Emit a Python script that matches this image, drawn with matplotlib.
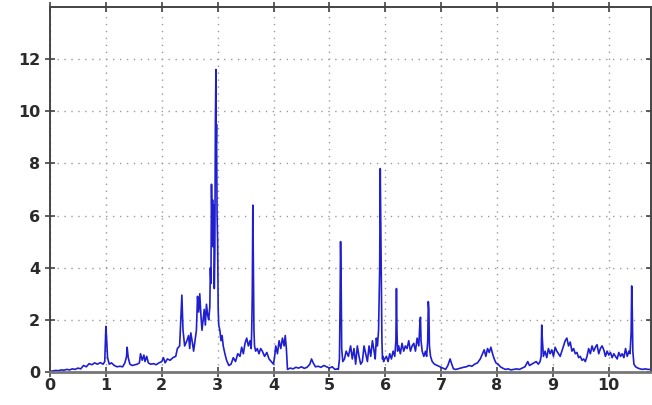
import matplotlib
matplotlib.use("Agg")
import matplotlib.pyplot as plt

# values
x_vals = [
    0.00, 0.05, 0.10, 0.15, 0.20, 0.25, 0.30, 0.35, 0.40, 0.45,
    0.50, 0.55, 0.60, 0.65, 0.70, 0.75, 0.80, 0.85, 0.90, 0.95,
    0.98, 1.00, 1.01, 1.03, 1.06, 1.10, 1.15, 1.20, 1.25, 1.30,
    1.34, 1.37, 1.38, 1.40, 1.43, 1.47, 1.52, 1.56, 1.60, 1.62,
    1.65, 1.68, 1.70, 1.73, 1.76, 1.80, 1.85, 1.90, 1.95, 2.00,
    2.03, 2.06, 2.10, 2.15, 2.20, 2.25, 2.28, 2.32, 2.34, 2.36,
    2.38, 2.41, 2.45, 2.48, 2.50, 2.52, 2.55, 2.57, 2.60, 2.62,
    2.64, 2.66, 2.68, 2.70, 2.72, 2.74, 2.76, 2.78, 2.80, 2.82,
    2.84, 2.86, 2.87, 2.88, 2.89, 2.90, 2.91, 2.92, 2.93, 2.94,
    2.95, 2.96, 2.97, 2.975, 2.98, 2.99, 3.00, 3.01, 3.02, 3.04,
    3.06, 3.08, 3.10, 3.13, 3.16, 3.20, 3.24, 3.28, 3.32, 3.36,
    3.40, 3.43, 3.46, 3.49, 3.52, 3.55, 3.58, 3.60, 3.61, 3.62,
    3.63, 3.64, 3.65, 3.66, 3.68, 3.71, 3.74, 3.77, 3.80, 3.84,
    3.88, 3.92, 3.96, 4.00, 4.02, 4.04, 4.07, 4.10, 4.13, 4.16,
    4.19, 4.21, 4.23, 4.25, 4.30, 4.35, 4.40, 4.45, 4.50, 4.55,
    4.60, 4.65, 4.68, 4.71, 4.75, 4.80, 4.85, 4.90, 4.95, 5.00,
    5.05, 5.10, 5.14, 5.16, 5.18, 5.19, 5.20, 5.21, 5.22, 5.24,
    5.27, 5.30, 5.34, 5.38, 5.41, 5.44, 5.47, 5.50, 5.53, 5.56,
    5.59, 5.62, 5.65, 5.68, 5.71, 5.74, 5.77, 5.80, 5.82, 5.84,
    5.86, 5.88, 5.90, 5.91, 5.92, 5.93, 5.94, 5.95, 5.96, 5.97,
    5.99, 6.02, 6.05, 6.08, 6.11, 6.14, 6.17, 6.19, 6.20, 6.21,
    6.22, 6.24, 6.27, 6.30, 6.33, 6.36, 6.39, 6.42, 6.45, 6.48,
    6.51, 6.54, 6.57, 6.60, 6.62, 6.63, 6.64, 6.66, 6.69, 6.72,
    6.74, 6.76, 6.77, 6.78, 6.79, 6.81, 6.84, 6.88, 6.93, 6.98,
    7.03, 7.08, 7.12, 7.16, 7.19, 7.22, 7.26, 7.30, 7.35, 7.40,
    7.45, 7.50, 7.55, 7.60, 7.65, 7.70, 7.74, 7.77, 7.80, 7.83,
    7.86, 7.89, 7.92, 7.95, 7.98, 8.02, 8.06, 8.10, 8.15, 8.20,
    8.25, 8.30, 8.35, 8.40, 8.45, 8.50, 8.55, 8.58, 8.62, 8.66,
    8.70, 8.74, 8.77, 8.79, 8.80, 8.81, 8.83, 8.86, 8.89, 8.92,
    8.95, 8.98, 9.01, 9.04, 9.07, 9.10, 9.13, 9.16, 9.19, 9.22,
    9.25, 9.28, 9.31, 9.34, 9.37, 9.40, 9.43, 9.46, 9.49, 9.52,
    9.55, 9.58, 9.61, 9.64, 9.67, 9.70, 9.73, 9.76, 9.79, 9.82,
    9.85, 9.88, 9.91, 9.94, 9.97, 10.00, 10.03, 10.06, 10.09, 10.12,
    10.15, 10.18, 10.21, 10.24, 10.27, 10.30, 10.33, 10.36, 10.38, 10.40,
    10.41, 10.42, 10.43, 10.45, 10.48, 10.52, 10.56, 10.60, 10.65, 10.70,
    10.75,
]
y_vals = [
    0.02, 0.04, 0.06, 0.05, 0.08, 0.07, 0.10, 0.08, 0.12, 0.10,
    0.15, 0.12, 0.25, 0.20, 0.32, 0.28, 0.35, 0.30, 0.36, 0.30,
    0.40, 1.75, 1.40, 0.55, 0.30, 0.35, 0.25, 0.20, 0.22, 0.20,
    0.35, 0.60, 0.95, 0.55, 0.30, 0.25, 0.28, 0.30, 0.35, 0.70,
    0.45, 0.65, 0.40, 0.60, 0.35, 0.30, 0.32, 0.28, 0.35, 0.40,
    0.55, 0.35, 0.50, 0.45, 0.55, 0.60, 0.90, 1.00, 2.00, 2.95,
    1.60, 1.00, 1.20, 1.40, 0.90, 1.50, 1.10, 0.80, 1.30, 1.60,
    2.90, 2.30, 3.00, 2.20, 1.60, 2.00, 2.40, 1.80, 2.60, 2.20,
    2.00, 2.50, 4.00, 3.40, 7.20, 5.60, 6.60, 4.80, 6.40, 3.20,
    4.60, 9.60, 11.60, 8.80, 9.50, 6.00, 5.00, 2.40, 1.80, 1.60,
    1.20, 1.40, 1.00, 0.70, 0.45, 0.25, 0.30, 0.55, 0.40, 0.70,
    0.60, 0.95, 0.70, 1.10, 1.30, 1.00, 1.20, 0.90, 1.60, 3.00,
    6.40, 4.20, 1.60, 1.00, 0.80, 0.90, 0.70, 0.90, 0.80, 0.60,
    0.75, 0.50, 0.40, 0.30, 0.60, 1.00, 0.70, 1.20, 0.90, 1.30,
    1.00, 1.40, 0.90, 0.10, 0.15, 0.12, 0.18, 0.15, 0.20, 0.14,
    0.18, 0.30, 0.50, 0.35, 0.20, 0.22, 0.18, 0.25, 0.20, 0.15,
    0.20, 0.10, 0.12, 0.10, 0.50, 2.40, 5.00, 3.60, 0.90, 0.40,
    0.50, 0.80, 0.60, 1.00, 0.50, 0.90, 0.30, 1.00, 0.60, 0.30,
    0.40, 1.00, 0.70, 0.40, 1.00, 0.60, 1.20, 0.80, 0.50, 1.30,
    1.00, 1.60, 4.00, 7.80, 5.50, 3.00, 1.20, 0.50, 0.60, 0.40,
    0.50, 0.60, 0.40, 0.70, 0.50, 0.80, 0.60, 1.20, 3.20, 1.50,
    0.80, 1.00, 0.70, 1.10, 0.80, 1.00, 0.90, 1.20, 0.80, 1.00,
    1.10, 0.80, 1.30, 1.00, 1.90, 2.10, 1.20, 0.80, 0.60, 0.80,
    0.60, 1.20, 2.70, 2.40, 1.00, 0.60, 0.40, 0.30, 0.25, 0.20,
    0.15, 0.10, 0.25, 0.50, 0.30, 0.12, 0.10, 0.12, 0.15, 0.18,
    0.20, 0.25, 0.22, 0.30, 0.35, 0.50, 0.70, 0.85, 0.60, 0.90,
    0.75, 0.95, 0.70, 0.50, 0.35, 0.30, 0.20, 0.15, 0.10, 0.12,
    0.08, 0.10, 0.12, 0.10, 0.15, 0.20, 0.40, 0.25, 0.30, 0.35,
    0.40, 0.30, 0.40, 0.60, 1.80, 1.30, 0.60, 0.80, 0.55, 0.90,
    0.70, 0.85, 0.60, 0.95, 0.80, 0.70, 0.60, 0.80, 1.00, 1.20,
    1.30, 1.00, 1.15, 0.80, 0.90, 0.70, 0.75, 0.55, 0.60, 0.45,
    0.50, 0.40, 0.60, 0.90, 0.70, 1.00, 0.80, 0.95, 1.05, 0.70,
    0.90, 1.00, 0.85, 0.60, 0.80, 0.65, 0.75, 0.55, 0.70, 0.60,
    0.50, 0.75, 0.60, 0.70, 0.55, 0.90, 0.60, 0.80, 0.70, 1.50,
    3.30, 2.40, 0.80, 0.30, 0.20, 0.15, 0.12, 0.10, 0.12, 0.10,
    0.10,
]
x_ticks = list(range(0, 11))
y_ticks = [0, 2, 4, 6, 8, 10, 12]

fig = plt.figure(figsize=(6.52, 4.05), dpi=100)
ax = fig.add_axes([50 / 652, 33 / 405, 1 - 50 / 652 - 0.002, (372 - 7) / 405])

ax.plot(x_vals, y_vals, color="#1f1fd0", lw=1.2)

ax.set_xlim(0, 10.75)
ax.set_ylim(0, 14)
ax.set_xticks(x_ticks)
ax.set_yticks(y_ticks)
ax.grid(True, color="#999999", linestyle=(0, (1, 4)), lw=1.0)

for s in ax.spines.values():
    s.set_color("#444444")
    s.set_linewidth(1.4)
ax.spines["bottom"].set_color("#777777")
ax.spines["bottom"].set_linewidth(2.0)

ax.tick_params(direction="inout", length=7, width=1.2, colors="#444444",
               top=True, right=True, labelsize=11.5)
ax.tick_params(axis="x", pad=1)
for lab in ax.get_xticklabels() + ax.get_yticklabels():
    lab.set_fontweight("bold")
    lab.set_color("#2a2a2a")

fig.savefig("out.png", dpi=100)
